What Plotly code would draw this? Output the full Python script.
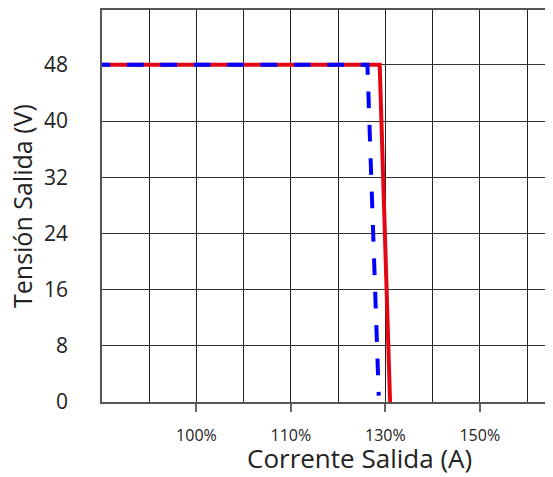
import plotly.graph_objects as go

# Data (x in grid units; each vertical grid line = 1 unit)
x_tick_pos = [2, 4, 6, 8]
x_tick_labels = ["100%", "110%", "130%", "150%"]
y_ticks = [0, 8, 16, 24, 32, 40, 48]

red_x = [0, 5.88, 6.10]
red_y = [48, 48, 0]
blue_x = [-0.18, 5.62, 5.86]
blue_y = [48, 48, 0.9]

fig = go.Figure()
fig.add_trace(go.Scatter(x=red_x, y=red_y, mode="lines",
                         line=dict(color="#e30613", width=4), hoverinfo="skip"))
fig.add_trace(go.Scatter(x=blue_x, y=blue_y, mode="lines",
                         line=dict(color="#0000ff", width=4, dash="16.7px,16.7px"),
                         hoverinfo="skip"))

font = "Open Sans"
# page body has an 8px default margin; size the figure to fit the 553x477 window
fig.update_layout(
    width=545, height=469,
    margin=dict(l=94, r=0, t=2, b=75),
    paper_bgcolor="white", plot_bgcolor="white",
    showlegend=False,
    xaxis=dict(range=[0, 9.55], tickvals=x_tick_pos, ticktext=x_tick_labels,
               ticks="outside", ticklen=8, tickcolor="#666", tickwidth=1.5,
               showgrid=True, gridcolor="#222", gridwidth=1.3,
               minor=dict(dtick=1, tick0=0, showgrid=True, gridcolor="#222", gridwidth=1.3, ticks=""),
               showline=True, linecolor="#555", linewidth=1.5, mirror=True,
               zeroline=False, ticklabelstandoff=10, automargin=False,
               tickfont=dict(family=font, size=16, color="#222")),
    yaxis=dict(range=[0, 55.8], tickvals=y_ticks,
               showgrid=True, gridcolor="#333", gridwidth=1.3,
               showline=True, linecolor="#555", linewidth=1.5,
               zeroline=False, ticks="", ticklabelstandoff=28, automargin=False,
               tickfont=dict(family=font, size=21, color="#222")),
    annotations=[
        dict(text="Corrente Salida (A)", xref="paper", yref="paper",
             x=0.570, y=-0.143, xanchor="center", yanchor="middle", showarrow=False,
             font=dict(family=font, size=26, color="#222")),
        dict(text="Tensión Salida (V)", xref="paper", yref="paper",
             x=(22 - 102) / 451, y=0.5, xanchor="center", yanchor="middle",
             textangle=-90, showarrow=False,
             font=dict(family=font, size=25, color="#222")),
    ],
)
fig.write_html("out.html")
